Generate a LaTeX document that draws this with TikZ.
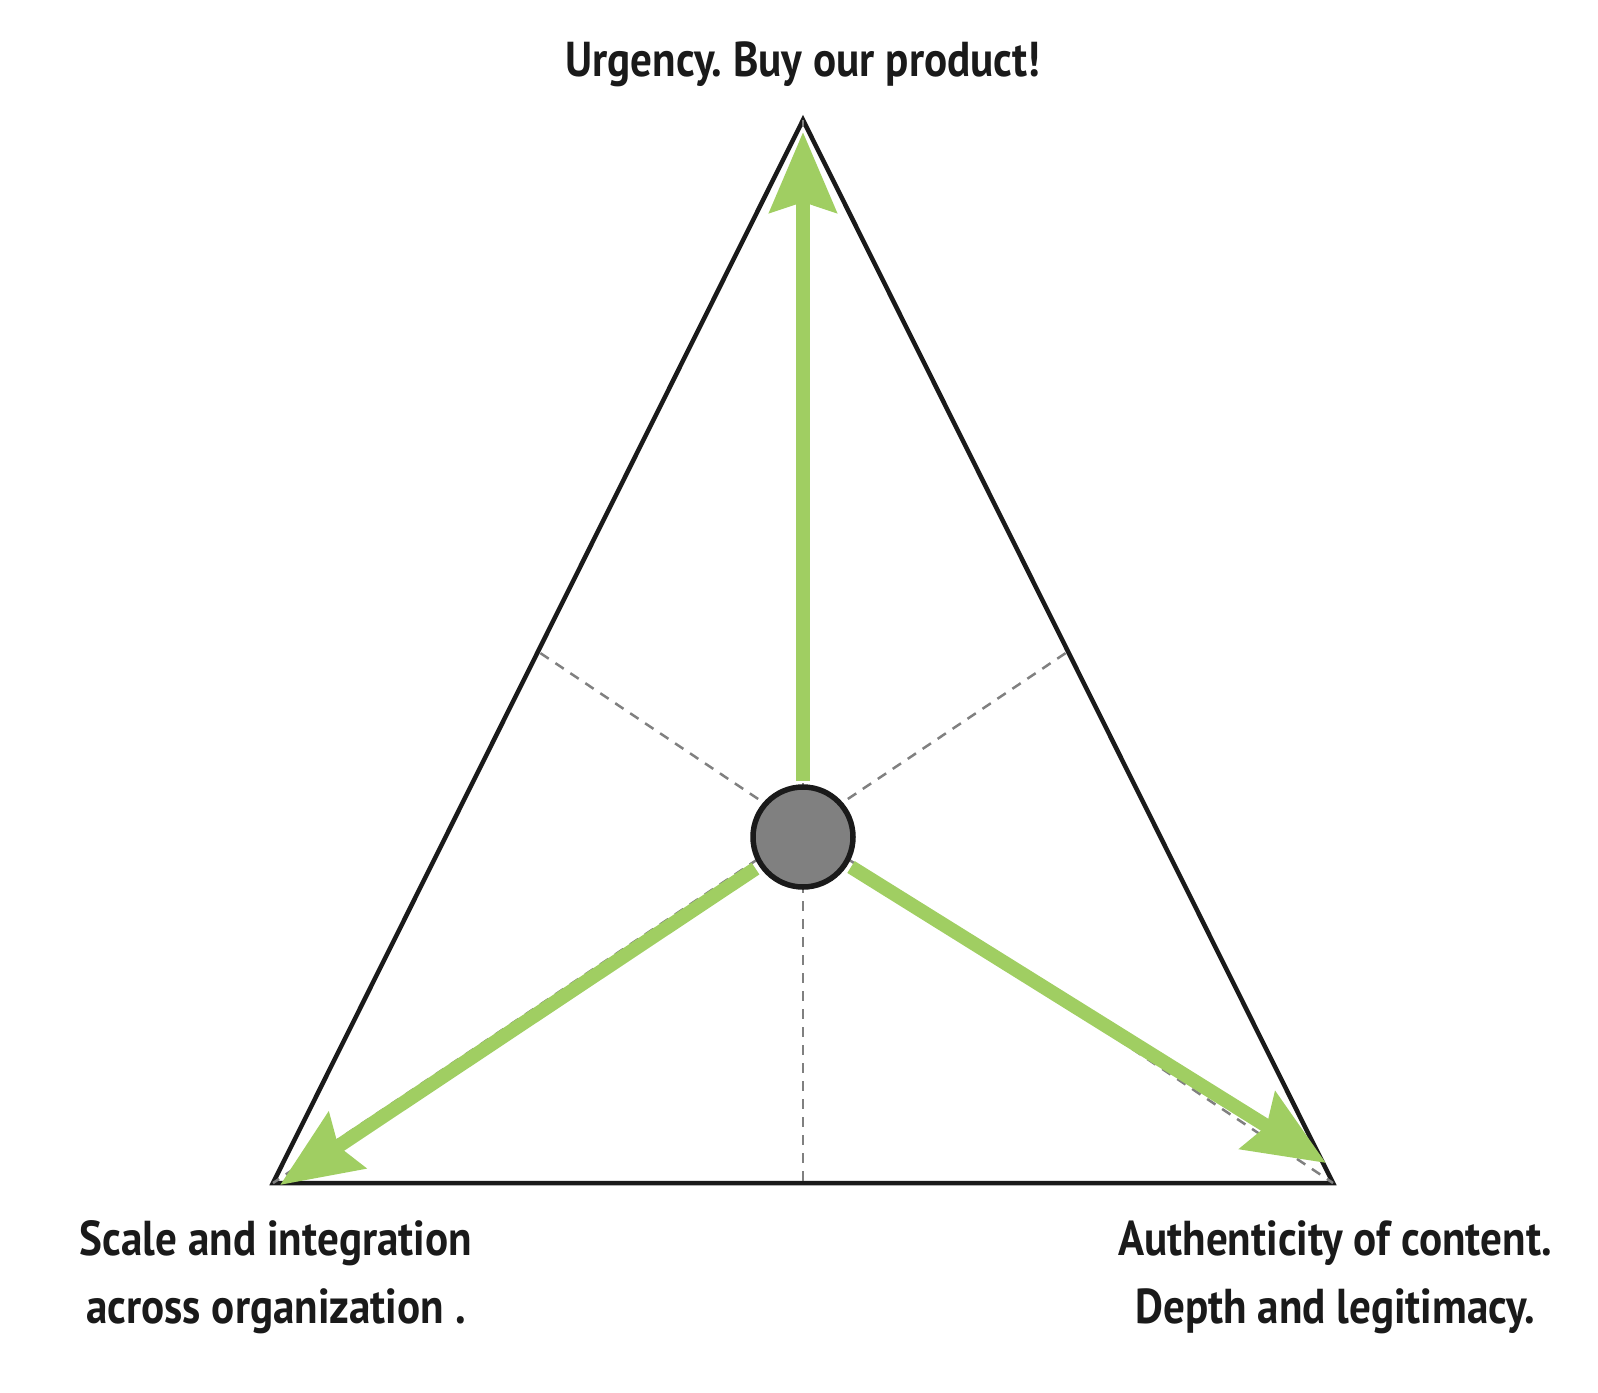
\documentclass[tikz,border=0pt]{standalone}
\usepackage{fontspec}
\newfontfamily\lblfont{PT Sans}[FakeStretch=0.88]
\usetikzlibrary{arrows.meta}
\definecolor{tri}{HTML}{1A1A1A}
\definecolor{grn}{RGB}{160,206,98}
\definecolor{dsh}{HTML}{808080}
\frenchspacing
\begin{document}
\begin{tikzpicture}[x=1pt,y=-1pt,
  side/.style={draw=tri,line width=4.5pt,line join=miter},
  guide/.style={draw=dsh,line width=2.5pt,dash pattern=on 10pt off 8pt},
  axis/.style={draw=grn,line width=14pt,-{Stealth[length=80pt,width=66pt,inset=10pt]}},
  hub/.style={circle,draw=tri,fill=dsh,line width=5.5pt,minimum size=100pt,inner sep=0pt},
  lbl/.style={font=\lblfont\bfseries\fontsize{49}{68}\selectfont,text=tri,align=center,inner sep=0pt}]
\useasboundingbox (0,0) rectangle (1598,1392);
\coordinate (T) at (803,120);
\coordinate (L) at (273,1183);
\coordinate (R) at (1333,1183);
\coordinate (C) at (803,837);
\coordinate (D) at (803,829);
\coordinate (mL) at (538,651.5);
\coordinate (mR) at (1068,651.5);
\coordinate (mB) at (803,1183);
\draw[side] (T) -- (L) -- (R) -- cycle;
\draw[guide] (D) -- (T);
\draw[guide] (D) -- (L);
\draw[guide] (D) -- (R);
\draw[guide] (D) -- (mL);
\draw[guide] (D) -- (mR);
\draw[guide] (D) -- (mB);
\coordinate (tT) at (803,132);
\coordinate (tL) at (280,1185);
\coordinate (tR) at (1326,1163);
\coordinate (sT) at (803,781);
\coordinate (sL) at (755.5,868.6);
\coordinate (sR) at (851,867);
\draw[axis] (sT) -- (tT);
\draw[axis] (sL) -- (tL);
\draw[axis] (sR) -- (tR);
\node[hub] (hub) at (C) {};
\node[lbl,anchor=base] (top) at (803,76) {Urgency. Buy our product!};
\node[lbl,anchor=base] (left) at (276,1323) {Scale and integration\\across organization .};
\node[lbl,anchor=base] (right) at (1335,1323) {Authenticity of content.\\Depth and legitimacy.};
\end{tikzpicture}
\end{document}
